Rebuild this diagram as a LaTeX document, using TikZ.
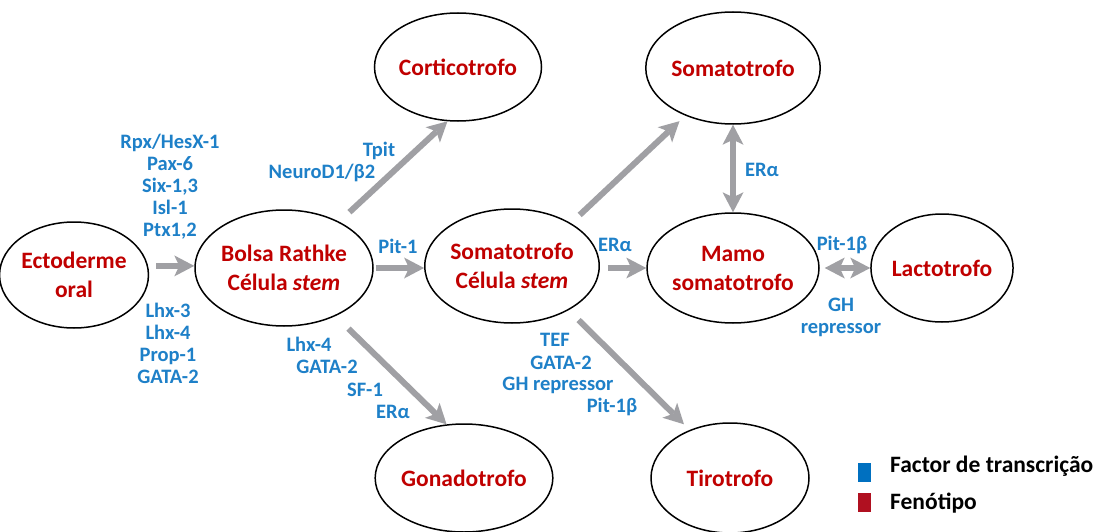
\documentclass[tikz,border=0pt]{standalone}
\usepackage{fontspec}
\setmainfont{Carlito}
\usetikzlibrary{shapes.geometric,arrows.meta}
\definecolor{phen}{RGB}{192,0,0}
\definecolor{tfblue}{RGB}{30,128,200}
\definecolor{arrg}{RGB}{160,160,164}
\definecolor{legblue}{RGB}{0,112,192}
\definecolor{legred}{RGB}{176,16,32}
\begin{document}
\begin{tikzpicture}[x=1pt,y=-1pt,
 cell/.style={ellipse, draw=black, line width=1.5pt, inner sep=0pt, text=phen, font=\bfseries\fontsize{23.5}{29}\selectfont, align=center},
 tfl/.style={text=tfblue, font=\bfseries\fontsize{20.5}{22}\selectfont, align=center, inner sep=0pt},
 tip/.tip={Stealth[length=20pt,width=21pt,inset=5pt,line width=0pt]},
 arr/.style={draw=arrg, line width=6pt, -tip},
 darr/.style={draw=arrg, line width=6pt, tip-tip},
 legtext/.style={anchor=west, inner sep=0pt, font=\bfseries\fontsize{23.5}{29}\selectfont},
]
\fill[white] (0,0) rectangle (1107,532);
\useasboundingbox (0,0) rectangle (1107,532);

% cells
\node[cell, minimum width=126pt, minimum height=106pt] (ecto) at (74,275) {Ectoderme\\oral};
\node[cell, minimum width=178pt, minimum height=116pt] (bolsa) at (284,268) {Bolsa Rathke\\Célula \textit{stem}};
\node[cell, minimum width=160pt, minimum height=114pt] (sstem) at (512,266) {Somatotrofo\\Célula \textit{stem}};
\node[cell, minimum width=142pt, minimum height=108pt] (cortico) at (458,67) {Corticotrofo};
\node[cell, minimum width=146pt, minimum height=112pt] (stop) at (733,68) {Somatotrofo};
\node[cell, minimum width=150pt, minimum height=110pt] (mamo) at (733,268) {Mamo\\somatotrofo};
\node[cell, minimum width=140pt, minimum height=108pt] (lacto) at (942,268) {Lactotrofo};
\node[cell, minimum width=144pt, minimum height=108pt] (gonado) at (464,478) {Gonadotrofo};
\node[cell, minimum width=158pt, minimum height=110pt] (tiro) at (730,478) {Tirotrofo};

% arrows
\draw[arr, shorten <=8pt] (ecto.7) -- (ecto.7 -| bolsa.west);
\draw[arr, shorten <=2pt] (bolsa.east) -- (bolsa.east -| sstem.west);
\draw[arr, shorten <=8pt] (sstem.east |- mamo.west) -- (mamo.west);
\draw[arr, shorten <=14pt] (bolsa.40) -- (cortico.259);
\draw[arr, shorten <=18pt] (bolsa.-43) -- (gonado.108);
\draw[arr, shorten <=12pt, shorten >=8pt] (sstem.36) -- (stop.225);
\draw[arr, shorten <=14pt, shorten >=8pt] (sstem.-38) -- (tiro.130);
\draw[darr] (stop.south) -- (mamo.north);
\draw[darr, shorten <=5pt] (mamo.east) -- (lacto.west);

% transcription factor labels
\node[tfl] (tfa) at (170,187) {Rpx/HesX-1\\Pax-6\\Six-1,3\\Isl-1\\Ptx1,2};
\node[tfl] (tfb) at (168,343) {Lhx-3\\Lhx-4\\Prop-1\\GATA-2};
\node[tfl] (tfc) at (379,151) {Tpit};
\node[tfl] (tfd) at (322,173) {NeuroD1/β2};
\node[tfl] (tfe) at (398,246) {Pit-1};
\node[tfl] (tff) at (309,344) {Lhx-4};
\node[tfl] (tfg) at (327,367) {GATA-2};
\node[tfl] (tfh) at (365,390) {SF-1};
\node[tfl] (tfi) at (393,412) {ERα};
\node[tfl] (tfj) at (615,245) {ERα};
\node[tfl] (tfk) at (762,170) {ERα};
\node[tfl] (tfl1) at (555,340) {TEF};
\node[tfl] (tfm) at (561,363) {GATA-2};
\node[tfl] (tfn) at (558,385) {GH repressor};
\node[tfl] (tfo) at (612,407) {Pit-1β};
\node[tfl] (tfp) at (842,245) {Pit-1β};
\node[tfl] (tfq) at (841,317) {GH\\repressor};

% legend
\node[fill=legblue, minimum width=13pt, minimum height=19pt, inner sep=0pt] (lb) at (864.5,472.5) {};
\node[fill=legred, minimum width=13pt, minimum height=19pt, inner sep=0pt] (lr) at (864.5,502.5) {};
\node[legtext] (lbt) at (890,466) {Factor de transcrição};
\node[legtext] (lrt) at (890,503) {Fenótipo};
\end{tikzpicture}
\end{document}
